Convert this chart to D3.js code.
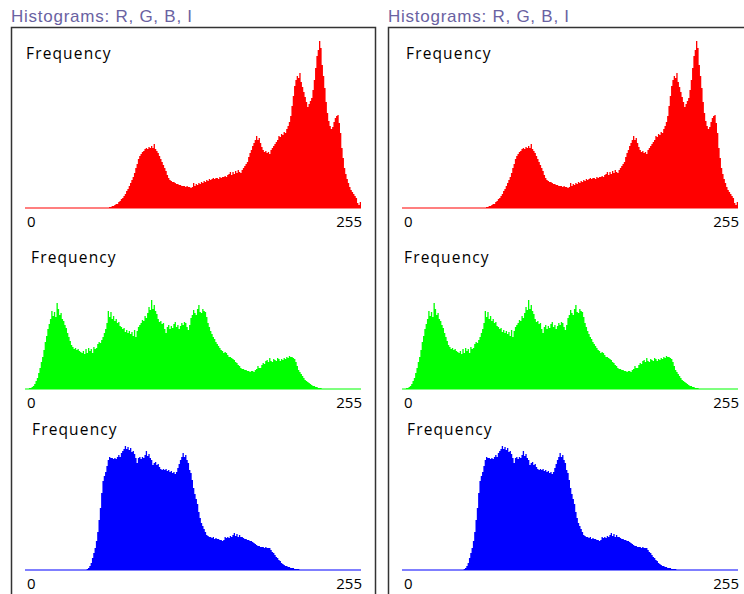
<!DOCTYPE html>
<html>
<head>
<meta charset="utf-8">
<script src="https://cdn.jsdelivr.net/npm/d3@7"></script>
<style>
    body { margin: 0; background: #fff; }
    svg { display: block; }
</style>
</head>
<body>
<svg class="graphs" width="744" height="594"></svg>
<script>
// bin counts 0..255 (arbitrary units)
const redCounts = [
    0,0,0,0,0,0,0,0,0,0,0,0,0,0,0,0,
    0,0,0,0,0,0,0,0,0,0,0,0,0,0,0,0,
    0,0,0,0,0,0,0,0,0,0,0,0,0,0,0,0,
    0,0,0,0,0,0,0,0,0,0,0,0,0,0,0,0,
    1,1,2,2,3,4,4,6,7,9,10,12,14,17,19,22,
    25,28,31,35,40,44,49,52,54,56,57,59,60,59,61,60,
    62,60,64,59,57,55,52,49,46,43,40,37,33,30,28,27,
    26,26,25,24,24,23,23,22,22,22,21,22,21,21,20,21,
    25,22,24,23,25,24,26,25,27,26,28,27,29,28,29,30,
    29,30,30,29,31,30,31,31,32,31,33,34,36,33,36,34,
    37,35,38,36,35,38,40,42,44,46,51,55,58,62,65,68,
    72,68,70,65,61,58,56,57,55,56,54,58,60,62,64,66,
    68,72,71,74,73,76,75,79,82,86,92,102,112,122,128,132,
    130,135,126,121,116,111,106,101,104,107,110,118,128,140,152,158,
    167,160,143,132,120,106,95,87,82,79,81,86,90,92,93,85,
    75,60,50,40,34,29,25,21,18,16,14,12,10,5,3,6
];

const greenCounts = [
    0,0,0,1,1,2,3,5,8,11,16,21,27,32,39,47,
    53,60,65,70,78,73,77,72,86,80,74,76,70,68,64,61,
    56,52,48,44,42,40,41,39,40,38,37,36,38,35,40,36,
    41,38,40,36,42,40,41,45,47,46,49,52,56,60,66,78,
    72,77,70,73,68,70,66,67,63,62,60,61,57,59,56,58,
    55,57,53,59,52,58,62,64,66,69,68,73,71,76,82,79,
    89,80,84,78,75,70,67,68,65,66,60,56,62,64,60,63,
    61,65,67,62,64,60,63,66,64,67,66,62,59,64,71,74,
    79,76,74,80,84,77,76,80,78,77,72,66,62,58,55,52,
    50,47,45,43,41,39,38,36,37,36,34,32,32,31,30,29,
    27,26,24,23,21,20,20,19,19,18,18,17,18,18,17,19,
    20,23,21,21,24,26,25,28,29,27,31,28,27,30,29,28,
    31,30,28,30,29,31,30,32,31,33,32,32,31,30,27,23,
    19,17,15,13,11,9,8,7,6,5,4,3,3,2,2,1,
    1,1,0,0,0,0,0,0,0,0,0,0,0,0,0,0,
    0,0,0,0,0,0,0,0,0,0,0,0,0,0,0,0
];

const blueCounts = [
    0,0,0,0,0,0,0,0,0,0,0,0,0,0,0,0,
    0,0,0,0,0,0,0,0,0,0,0,0,0,0,0,0,
    0,0,0,0,0,0,0,0,0,0,0,0,0,0,0,1,
    2,4,7,12,17,22,29,38,50,62,77,89,94,98,104,110,
    113,112,112,111,112,111,113,115,113,117,119,121,124,121,123,120,
    122,118,119,116,112,107,112,113,111,113,112,115,119,114,116,112,
    110,105,107,108,105,106,103,101,100,101,100,101,99,100,98,99,
    97,98,96,98,102,106,110,113,117,113,115,110,107,100,97,90,
    82,76,71,66,58,52,47,44,41,38,35,34,33,33,32,33,
    31,32,31,31,30,30,29,30,33,32,33,32,34,33,35,37,
    34,36,33,35,33,33,32,31,31,30,30,29,29,28,27,26,
    25,24,24,23,23,23,22,23,22,22,22,20,18,17,15,13,
    12,10,9,7,6,5,4,4,3,3,2,2,2,1,1,1,
    1,0,0,0,0,0,0,0,0,0,0,0,0,0,0,0,
    0,0,0,0,0,0,0,0,0,0,0,0,0,0,0,0,
    0,0,0,0,0,0,0,0,0,0,0,0,0,0,0,0
];

const titleText = 'Histograms: R, G, B, I';
const yLabel = 'Frequency';
const binLabels = ['0', '255'];

//#region Layout
const graphs = d3.select('.graphs');

const panelLefts = [11, 388];
const panelWidth = 364;
const boxTop = 27.5;

const plotLeft = 14;      // relative to panel left
const plotWidth = 336;

const channels = [
    { counts: redCounts,   color: '#ff0000', top: 41,  base: 208, labelY: 59 },
    { counts: greenCounts, color: '#00ff00', top: 300, base: 389, labelY: 262.5 },
    { counts: blueCounts,  color: '#0000ff', top: 446, base: 570, labelY: 435 }
];

// "Frequency" sits a little differently in each chart
const labelOffsets = [[15, 20, 21], [18, 16, 19]];
//#endregion

const drawChart = (g, ch, labelDx) => {
    const xScale = d3.scaleLinear()
        .domain([0, ch.counts.length])
        .range([plotLeft, plotLeft + plotWidth]);

    const yScale = d3.scaleLinear()
        .domain([0, d3.max(ch.counts)])
        .range([ch.base, ch.top]);

    const bins = ch.counts.map((v, i) => ({ bin: i, value: v }));
    bins.push({ bin: ch.counts.length, value: ch.counts[ch.counts.length - 1] });

    const area = d3.area()
        .x(d => xScale(d.bin))
        .y0(yScale(0))
        .y1(d => yScale(d.value))
        .curve(d3.curveStepAfter);

    g.append('path')
        .datum(bins)
        .attr('d', area)
        .attr('fill', ch.color);

    g.append('line')
        .attr('x1', xScale(0))
        .attr('x2', xScale(ch.counts.length))
        .attr('y1', yScale(0))
        .attr('y2', yScale(0))
        .attr('stroke', ch.color)
        .attr('stroke-width', 1.2);

    g.append('text')
        .attr('class', 'freq')
        .attr('x', labelDx)
        .attr('y', ch.labelY)
        .text(yLabel);

    g.append('text')
        .attr('class', 'bin')
        .attr('x', xScale(0) + 2)
        .attr('y', yScale(0) + 19)
        .text(binLabels[0]);

    g.append('text')
        .attr('class', 'bin')
        .attr('x', xScale(ch.counts.length) + 1)
        .attr('y', yScale(0) + 19)
        .attr('text-anchor', 'end')
        .text(binLabels[1]);
};

panelLefts.forEach((left, p) => {
    const panel = graphs.append('g')
        .attr('transform', `translate(${left}, 0)`);

    panel.append('text')
        .attr('x', 0)
        .attr('y', 22)
        .attr('fill', '#6a62a2')
        .style('font-family', '"Liberation Sans", Arial, sans-serif')
        .style('font-size', '17px')
        .style('letter-spacing', '0.75px')
        .text(titleText);

    panel.append('rect')
        .attr('x', 0.5)
        .attr('y', boxTop)
        .attr('width', panelWidth)
        .attr('height', 600)
        .attr('fill', 'none')
        .attr('stroke', '#333')
        .attr('stroke-width', 1.5);

    channels.forEach((ch, c) => drawChart(panel.append('g'), ch, labelOffsets[p][c]));
});

graphs.selectAll('text.freq')
    .attr('fill', '#000')
    .style('font-family', '"Open Sans", sans-serif')
    .style('font-size', '15.5px')
    .style('letter-spacing', '1.15px');

graphs.selectAll('text.bin')
    .attr('fill', '#000')
    .style('font-family', '"Open Sans", sans-serif')
    .style('font-size', '15px');
</script>
</body>
</html>
